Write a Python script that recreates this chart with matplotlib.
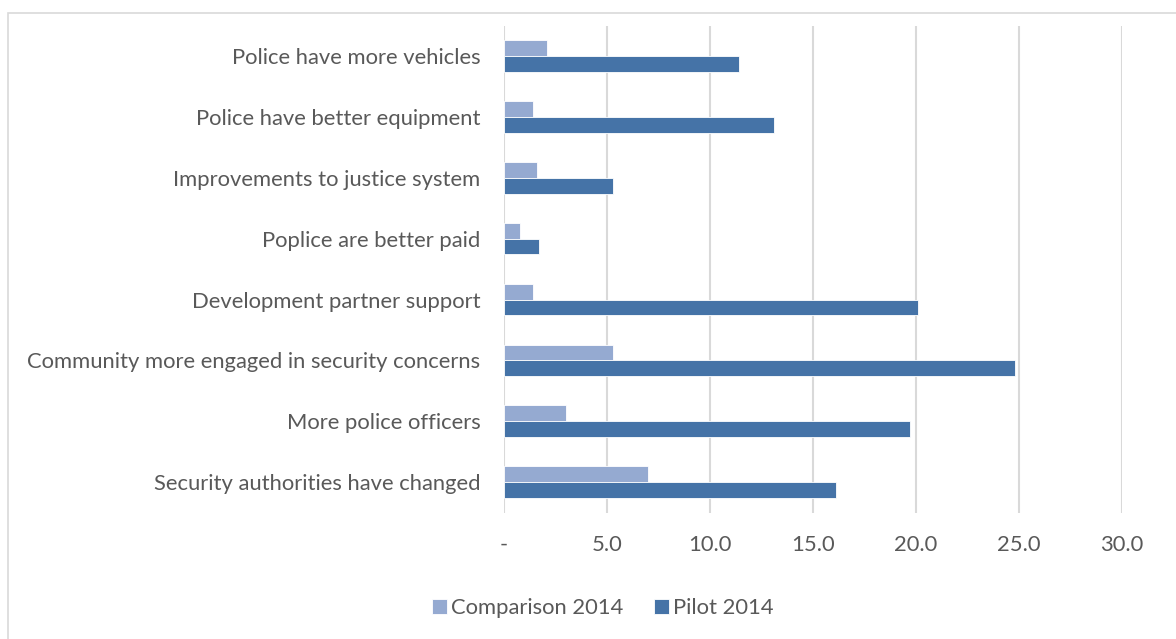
import numpy as np
import matplotlib.pyplot as plt
from matplotlib.patches import Rectangle

categories = [
    "Police have more vehicles",
    "Police have better equipment",
    "Improvements to justice system",
    "Poplice are better paid",
    "Development partner support",
    "Community more engaged in security concerns",
    "More police officers",
    "Security authorities have changed",
]
comparison_2014 = [2.1, 1.4, 1.6, 0.8, 1.4, 5.3, 3.0, 7.0]
pilot_2014 = [11.4, 13.1, 5.3, 1.7, 20.1, 24.8, 19.7, 16.1]
x_ticks = [0, 5, 10, 15, 20, 25, 30]
x_ticklabels = ["-", "5.0", "10.0", "15.0", "20.0", "25.0", "30.0"]

plt.rcParams['font.family'] = ['Lato', 'DejaVu Sans']
text_color = '#595959'
grid_color = '#d9d9d9'
fs = 15.8

fig = plt.figure(figsize=(11.76, 6.39), dpi=100)
W, H = 1176, 639

# light frame around the chart
fig.patches.append(Rectangle((8 / W, -0.1), 1.2, 1 - 13 / H + 0.1,
                             transform=fig.transFigure, fill=False,
                             edgecolor=grid_color, linewidth=1.2))

ax = fig.add_axes([504 / W, 1 - 512.6 / H, (1122 - 504) / W, (512.6 - 25.6) / H])

y = np.arange(len(categories))
h = 0.26
ax.barh(y - h / 2, comparison_2014, height=h, color='#95aad1',
        edgecolor='white', linewidth=0.6, label='Comparison 2014', zorder=3)
ax.barh(y + h / 2, pilot_2014, height=h, color='#4573a7',
        edgecolor='white', linewidth=0.6, label='Pilot 2014', zorder=3)

ax.set_xlim(0, 30)
ax.set_ylim(len(categories) - 0.5, -0.5)
ax.set_yticks(y)
ax.set_yticklabels(categories, fontsize=fs, color=text_color)
ax.set_xticks(x_ticks)
ax.set_xticklabels(x_ticklabels, fontsize=fs, color=text_color)
ax.tick_params(axis='y', length=0, pad=17)
ax.tick_params(axis='x', length=0, pad=16)
ax.grid(axis='x', color=grid_color, linewidth=1.5, zorder=0)
for s in ax.spines.values():
    s.set_visible(False)

ax.legend(loc='center', bbox_to_anchor=(603 / W, 1 - 608 / H), bbox_transform=fig.transFigure,
          ncol=2, frameon=False, fontsize=fs, labelcolor=text_color,
          handlelength=0.65, handleheight=0.65, handletextpad=0.2, columnspacing=1.4)

fig.savefig('out.png', dpi=100)
